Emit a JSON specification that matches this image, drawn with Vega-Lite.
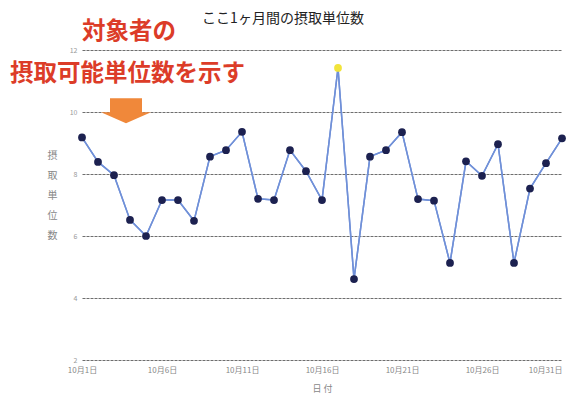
{
  "$schema": "https://vega.github.io/schema/vega-lite/v6.json",
  "width": 480,
  "height": 310,
  "autosize": {"type": "none"},
  "padding": {"left": 82, "top": 50, "right": 12, "bottom": 40},
  "background": "white",
  "title": {"text": "ここ1ヶ月間の摂取単位数", "font": "Noto Sans CJK JP", "fontSize": 14, "fontWeight": "normal", "color": "#222222", "anchor": "middle", "dx": -39, "offset": -6},
  "config": {"view": {"stroke": null}, "font": "Noto Sans CJK JP"},
  "datasets": {
    "daily": [
      {"day": 1, "value": 9.18}, {"day": 2, "value": 8.39}, {"day": 3, "value": 7.96},
      {"day": 4, "value": 6.52}, {"day": 5, "value": 6.0}, {"day": 6, "value": 7.16},
      {"day": 7, "value": 7.16}, {"day": 8, "value": 6.49}, {"day": 9, "value": 8.56},
      {"day": 10, "value": 8.77}, {"day": 11, "value": 9.36}, {"day": 12, "value": 7.2},
      {"day": 13, "value": 7.16}, {"day": 14, "value": 8.77}, {"day": 15, "value": 8.09},
      {"day": 16, "value": 7.16}, {"day": 17, "value": 11.42}, {"day": 18, "value": 4.61},
      {"day": 19, "value": 8.56}, {"day": 20, "value": 8.77}, {"day": 21, "value": 9.35},
      {"day": 22, "value": 7.19}, {"day": 23, "value": 7.14}, {"day": 24, "value": 5.13},
      {"day": 25, "value": 8.41}, {"day": 26, "value": 7.94}, {"day": 27, "value": 8.96},
      {"day": 28, "value": 5.13}, {"day": 29, "value": 7.53}, {"day": 30, "value": 8.35},
      {"day": 31, "value": 9.15}
    ],
    "notes": [
      {"label": "対象者の", "day": 1, "value": 12.58},
      {"label": "摂取可能単位数を示す", "day": -3.5, "value": 11.21}
    ],
    "arrow": [
      {"day": 3.75, "value": 10.06}
    ]
  },
  "layer": [
    {
      "data": {"name": "daily"},
      "mark": {"type": "line", "color": "#7090d8", "strokeWidth": 1.5},
      "encoding": {
        "x": {
          "field": "day", "type": "quantitative",
          "scale": {"domain": [1, 31], "nice": false, "zero": false},
          "axis": {
            "values": [1, 6, 11, 16, 21, 26, 31],
            "labelExpr": "'10月' + datum.value + '日'",
            "grid": false, "domain": false, "ticks": false,
            "labelFontSize": 8, "labelColor": "#888888", "labelPadding": 6,
            "labelAlign": {"condition": {"test": "datum.value == 31", "value": "right"}, "value": "center"},
            "title": "日 付", "titleFontSize": 9, "titleColor": "#888888", "titleFontWeight": "normal",
            "titleY": 28, "titleBaseline": "middle"
          }
        },
        "y": {
          "field": "value", "type": "quantitative",
          "scale": {"domain": [2, 12], "nice": false, "zero": false},
          "axis": {
            "values": [2, 4, 6, 8, 10, 12],
            "grid": true, "gridColor": "#555555", "gridDash": [3, 1], "gridOpacity": 0.85,
            "domain": false, "ticks": false,
            "labelFontSize": 7, "labelColor": "#999999", "labelPadding": 5,
            "title": ["摂", "取", "単", "位", "数"],
            "titleAngle": 0, "titleX": -30, "titleY": 100, "titleAlign": "center", "titleBaseline": "top",
            "titleFontSize": 10, "titleLineHeight": 20, "titleColor": "#888888", "titleFontWeight": "normal"
          }
        }
      }
    },
    {
      "mark": {"type": "rule", "color": "#c8202c", "strokeWidth": 3},
      "encoding": {"y": {"datum": 10, "type": "quantitative"}}
    },
    {
      "mark": {"type": "rule", "color": "#999999", "strokeWidth": 1, "strokeDash": [2, 2]},
      "encoding": {"x": {"datum": 31, "type": "quantitative"}}
    },
    {
      "data": {"name": "daily"},
      "mark": {"type": "line", "color": "#7090d8", "strokeWidth": 1.5},
      "encoding": {
        "x": {"field": "day", "type": "quantitative"},
        "y": {"field": "value", "type": "quantitative"}
      }
    },
    {
      "data": {"name": "daily"},
      "mark": {"type": "point", "filled": true, "size": 60, "opacity": 1},
      "encoding": {
        "x": {"field": "day", "type": "quantitative"},
        "y": {"field": "value", "type": "quantitative"},
        "color": {"condition": {"test": "datum.day == 17", "value": "#f2e43a"}, "value": "#1c2150"}
      }
    },
    {
      "data": {"name": "arrow"},
      "mark": {"type": "point", "filled": true, "opacity": 1, "size": 2500, "color": "#f0883a",
        "shape": "M-0.64,-0.48 L0.64,-0.48 L0.64,0.08 L1,0.08 L0,0.52 L-1,0.08 L-0.64,0.08 Z"},
      "encoding": {
        "x": {"field": "day", "type": "quantitative"},
        "y": {"field": "value", "type": "quantitative"}
      }
    },
    {
      "data": {"name": "notes"},
      "mark": {"type": "text", "align": "left", "baseline": "middle", "fontSize": 23.5, "fontWeight": "bold", "color": "#dc3c28", "font": "Noto Sans CJK JP"},
      "encoding": {
        "x": {"field": "day", "type": "quantitative"},
        "y": {"field": "value", "type": "quantitative"},
        "text": {"field": "label"}
      }
    }
  ]
}
